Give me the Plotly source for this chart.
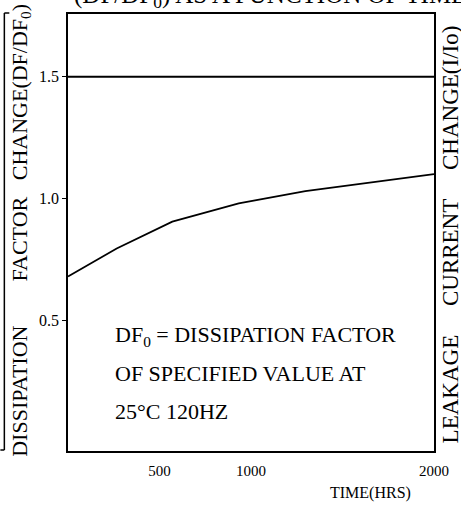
import plotly.graph_objects as go

# Data
time_hrs = [0, 266, 570, 933, 1297, 1655, 2000]
df_ratio = [0.68, 0.795, 0.905, 0.98, 1.03, 1.066, 1.10]
limit_time = [0, 2000]
limit_value = [1.5, 1.5]

x_tick_vals = [500, 1000, 2000]
x_tick_text = ["500", "1000", "2000"]
y_tick_vals = [0.5, 1.0, 1.5]
y_tick_text = ["0.5", "1.0", "1.5"]

SERIF = "Liberation Serif, Times New Roman, serif"
SP = "\u00a0"

fig = go.Figure()
fig.add_trace(go.Scatter(x=limit_time, y=limit_value, mode="lines",
                         line=dict(color="black", width=2), showlegend=False))
fig.add_trace(go.Scatter(x=time_hrs, y=df_ratio, mode="lines",
                         line=dict(color="black", width=1.8), showlegend=False))

W, H = 461, 507
L, R, T, B = 68, 25, 13, 56
pw, ph = W - L - R, H - T - B

def px(x):
    return (x - L) / pw

def py(y):
    return (H - B - y) / ph

anns = [
    dict(text="(DF/DF<sub>0</sub>) AS A FUNCTION OF TIME", x=px(72), y=py(-5),
         xanchor="left", yanchor="middle", font=dict(size=25)),
    dict(text="DISSIPATION" + SP * 8 + "FACTOR" + SP * 3 + "CHANGE(DF/DF<sub>0</sub>)",
         x=px(20), y=py(230), textangle=-90, xanchor="center", yanchor="middle",
         font=dict(size=22)),
    dict(text="LEAKAGE" + SP * 5 + "CURRENT" + SP * 5 + "CHANGE(I/Io)",
         x=px(453), y=py(234), textangle=-90, xanchor="center", yanchor="middle",
         font=dict(size=23)),
    dict(text="DF<sub>0</sub> = DISSIPATION FACTOR", x=px(113), y=py(336),
         xanchor="left", yanchor="middle", font=dict(size=22)),
    dict(text="OF SPECIFIED VALUE AT", x=px(113), y=py(373),
         xanchor="left", yanchor="middle", font=dict(size=22)),
    dict(text="25°C 120HZ", x=px(113), y=py(411),
         xanchor="left", yanchor="middle", font=dict(size=22)),
    dict(text="TIME(HRS)", x=px(372), y=py(493),
         xanchor="center", yanchor="middle", font=dict(size=16)),
]
for a in anns:
    a.update(xref="paper", yref="paper", showarrow=False)
    a["font"].update(family=SERIF, color="black")

shapes = [
    dict(type="line", x0=px(4), x1=px(4), y0=py(12), y1=py(450)),
    dict(type="line", x0=px(4), x1=px(9), y0=py(12), y1=py(12)),
    dict(type="line", x0=px(0), x1=px(4), y0=py(450), y1=py(450)),
]
for s in shapes:
    s.update(xref="paper", yref="paper", line=dict(color="black", width=1.5))

fig.update_layout(
    width=W, height=H,
    margin=dict(l=L, r=R, t=T, b=B),
    paper_bgcolor="white", plot_bgcolor="white",
    font=dict(family=SERIF, color="black"),
    annotations=anns, shapes=shapes,
    xaxis=dict(range=[0, 2000], tickvals=x_tick_vals, ticktext=x_tick_text,
               showgrid=False, zeroline=False, showline=True, mirror=True,
               linecolor="black", linewidth=1.5, ticks="outside", ticklen=5,
               tickcolor="rgba(0,0,0,0)", tickfont=dict(size=15, family=SERIF)),
    yaxis=dict(range=[-0.037, 1.758], tickvals=y_tick_vals, ticktext=y_tick_text,
               showgrid=False, zeroline=False, showline=True, mirror=True,
               linecolor="black", linewidth=1.5, ticks="outside", ticklen=4,
               tickcolor="black", tickfont=dict(size=16, family=SERIF)),
)

fig.write_html("out.html", config={"displayModeBar": False},
               post_script="document.body.style.margin='0px';")
